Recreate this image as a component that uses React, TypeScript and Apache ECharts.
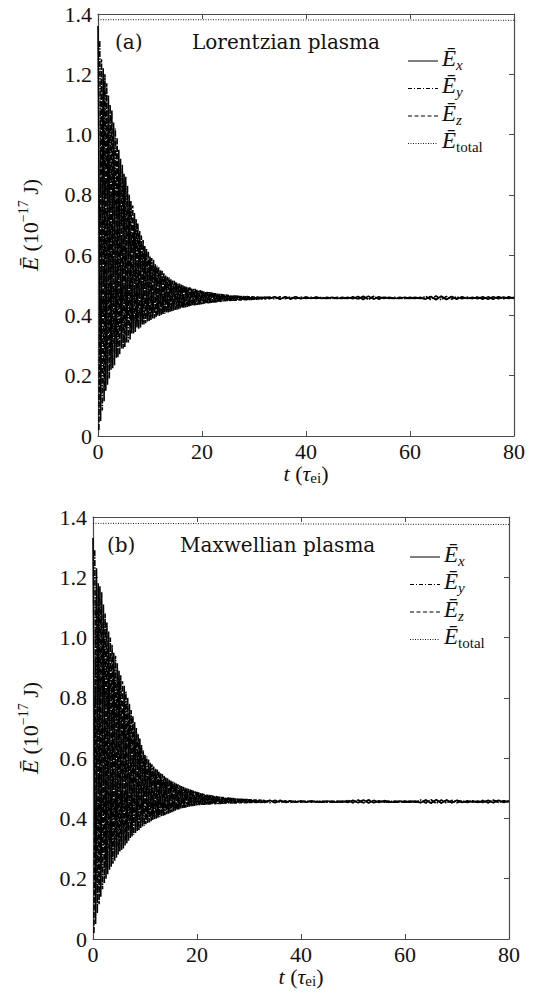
import React, { useEffect, useRef } from "react";
import * as echarts from "echarts";

const DENSE_STEP = 0.5; // time between successive turning points of one component
const FLAT_START = 33;
const FLAT_STEP = 1;
const OFFSET_X = 0;
const OFFSET_Y = 0.33;
const OFFSET_Z = 0.17;

// ---- panel (a): Lorentzian plasma ----
const EX_A_DENSE = [1.36, 0.05, 1.22, 0.15, 1.13, 0.22, 1.04, 0.26, 0.95, 0.29, 0.87, 0.31, 0.80, 0.34, 0.74, 0.36, 0.68, 0.37, 0.63, 0.38, 0.595, 0.39, 0.57, 0.40, 0.55, 0.405, 0.532, 0.41, 0.52, 0.416, 0.51, 0.421, 0.502, 0.426, 0.495, 0.43, 0.489, 0.433, 0.485, 0.436, 0.481, 0.439, 0.478, 0.441, 0.475, 0.443, 0.472, 0.445, 0.47, 0.447, 0.468, 0.448, 0.466, 0.449, 0.465, 0.45, 0.464, 0.451, 0.463, 0.452, 0.462, 0.453, 0.461, 0.454, 0.461];
const EY_A_DENSE = [1.31, 0.085, 1.20, 0.17, 1.10, 0.225, 1.02, 0.26, 0.92, 0.29, 0.86, 0.31, 0.78, 0.34, 0.72, 0.355, 0.665, 0.37, 0.62, 0.382, 0.59, 0.39, 0.565, 0.398, 0.548, 0.406, 0.528, 0.412, 0.516, 0.418, 0.507, 0.423, 0.50, 0.427, 0.492, 0.431, 0.488, 0.434, 0.484, 0.437, 0.48, 0.44, 0.477, 0.442, 0.474, 0.444, 0.471, 0.446, 0.469, 0.448, 0.467, 0.449, 0.466, 0.45, 0.464, 0.451, 0.463, 0.452, 0.462, 0.453, 0.462, 0.454, 0.461, 0.455, 0.46];
const EZ_A_DENSE = [0.02, 1.25, 0.115, 1.17, 0.19, 1.08, 0.235, 0.99, 0.27, 0.90, 0.295, 0.83, 0.32, 0.765, 0.345, 0.705, 0.36, 0.65, 0.374, 0.612, 0.385, 0.585, 0.393, 0.56, 0.401, 0.54, 0.408, 0.526, 0.414, 0.515, 0.419, 0.506, 0.424, 0.498, 0.428, 0.493, 0.432, 0.488, 0.435, 0.484, 0.438, 0.48, 0.44, 0.477, 0.443, 0.474, 0.445, 0.471, 0.447, 0.469, 0.448, 0.467, 0.449, 0.466, 0.45, 0.465, 0.451, 0.464, 0.452, 0.463, 0.453, 0.462, 0.454, 0.461, 0.455];
const EX_A_FLAT = [
  0.455, 0.462, 0.454, 0.461, 0.456, 0.462, 0.455, 0.460,
  0.456, 0.461, 0.457, 0.456, 0.460, 0.457, 0.456, 0.460,
  0.455, 0.463, 0.453, 0.464, 0.454, 0.462, 0.456, 0.460,
  0.457, 0.456, 0.460, 0.457, 0.456, 0.460, 0.454, 0.463,
  0.452, 0.464, 0.453, 0.463, 0.455, 0.461, 0.456, 0.460,
  0.455, 0.462, 0.454, 0.462, 0.455, 0.461, 0.456, 0.460,
];
const EY_A_FLAT = [
  0.461, 0.454, 0.462, 0.455, 0.461, 0.455, 0.461, 0.456,
  0.460, 0.456, 0.460, 0.457, 0.456, 0.460, 0.457, 0.456,
  0.462, 0.454, 0.464, 0.453, 0.463, 0.455, 0.461, 0.456,
  0.460, 0.457, 0.456, 0.460, 0.457, 0.456, 0.463, 0.453,
  0.465, 0.452, 0.463, 0.454, 0.462, 0.455, 0.461, 0.456,
  0.462, 0.454, 0.462, 0.455, 0.461, 0.455, 0.462, 0.456,
];
const EZ_A_FLAT = [
  0.457, 0.461, 0.455, 0.462, 0.454, 0.461, 0.456, 0.461,
  0.457, 0.460, 0.456, 0.460, 0.457, 0.456, 0.460, 0.457,
  0.460, 0.455, 0.462, 0.454, 0.463, 0.454, 0.460, 0.457,
  0.456, 0.460, 0.457, 0.456, 0.460, 0.457, 0.455, 0.462,
  0.454, 0.463, 0.453, 0.462, 0.454, 0.461, 0.457, 0.456,
  0.460, 0.455, 0.461, 0.454, 0.462, 0.456, 0.460, 0.457,
];

// ---- panel (b): Maxwellian plasma ----
const EX_B_DENSE = [1.33, 0.05, 1.18, 0.14, 1.11, 0.20, 1.02, 0.24, 0.95, 0.27, 0.89, 0.295, 0.84, 0.318, 0.78, 0.34, 0.72, 0.358, 0.665, 0.373, 0.61, 0.385, 0.585, 0.395, 0.565, 0.402, 0.55, 0.409, 0.536, 0.416, 0.525, 0.423, 0.516, 0.43, 0.507, 0.435, 0.50, 0.439, 0.494, 0.442, 0.488, 0.444, 0.483, 0.445, 0.479, 0.446, 0.476, 0.447, 0.473, 0.448, 0.471, 0.449, 0.469, 0.45, 0.467, 0.45, 0.465, 0.451, 0.464, 0.451, 0.463, 0.452, 0.462, 0.452, 0.461];
const EY_B_DENSE = [1.29, 0.085, 1.17, 0.165, 1.08, 0.215, 1.00, 0.25, 0.94, 0.28, 0.875, 0.30, 0.82, 0.325, 0.76, 0.345, 0.70, 0.36, 0.645, 0.376, 0.605, 0.387, 0.58, 0.396, 0.562, 0.404, 0.547, 0.411, 0.533, 0.418, 0.522, 0.425, 0.513, 0.431, 0.505, 0.436, 0.498, 0.44, 0.492, 0.443, 0.486, 0.445, 0.482, 0.446, 0.478, 0.447, 0.475, 0.448, 0.472, 0.449, 0.47, 0.45, 0.468, 0.45, 0.466, 0.451, 0.465, 0.451, 0.464, 0.452, 0.463, 0.452, 0.462, 0.453, 0.461];
const EZ_B_DENSE = [0.02, 1.23, 0.115, 1.15, 0.185, 1.05, 0.23, 0.975, 0.26, 0.915, 0.29, 0.855, 0.31, 0.80, 0.335, 0.74, 0.352, 0.68, 0.368, 0.625, 0.381, 0.595, 0.391, 0.572, 0.399, 0.556, 0.407, 0.541, 0.414, 0.529, 0.421, 0.519, 0.428, 0.51, 0.434, 0.502, 0.438, 0.496, 0.441, 0.49, 0.444, 0.485, 0.445, 0.48, 0.446, 0.477, 0.447, 0.474, 0.448, 0.471, 0.449, 0.469, 0.45, 0.467, 0.45, 0.466, 0.451, 0.465, 0.451, 0.464, 0.452, 0.463, 0.452, 0.462, 0.453];
const EX_B_FLAT = [
  0.453, 0.460, 0.452, 0.459, 0.454, 0.459, 0.454, 0.458,
  0.454, 0.458, 0.455, 0.454, 0.458, 0.455, 0.454, 0.458,
  0.453, 0.460, 0.452, 0.461, 0.451, 0.460, 0.453, 0.459,
  0.455, 0.454, 0.458, 0.455, 0.454, 0.458, 0.452, 0.461,
  0.450, 0.462, 0.451, 0.461, 0.452, 0.460, 0.453, 0.459,
  0.454, 0.458, 0.453, 0.460, 0.452, 0.460, 0.453, 0.459,
];
const EY_B_FLAT = [
  0.459, 0.452, 0.460, 0.453, 0.459, 0.453, 0.458, 0.454,
  0.458, 0.454, 0.458, 0.455, 0.454, 0.458, 0.455, 0.454,
  0.460, 0.452, 0.461, 0.451, 0.461, 0.452, 0.459, 0.454,
  0.458, 0.455, 0.454, 0.458, 0.455, 0.454, 0.461, 0.451,
  0.462, 0.450, 0.461, 0.451, 0.460, 0.452, 0.459, 0.453,
  0.459, 0.453, 0.460, 0.452, 0.460, 0.453, 0.459, 0.454,
];
const EZ_B_FLAT = [
  0.455, 0.459, 0.453, 0.460, 0.452, 0.459, 0.454, 0.458,
  0.455, 0.458, 0.454, 0.458, 0.455, 0.454, 0.458, 0.455,
  0.458, 0.453, 0.460, 0.452, 0.461, 0.452, 0.458, 0.455,
  0.454, 0.458, 0.455, 0.454, 0.458, 0.455, 0.453, 0.460,
  0.452, 0.461, 0.451, 0.460, 0.453, 0.459, 0.455, 0.454,
  0.458, 0.453, 0.459, 0.452, 0.460, 0.454, 0.458, 0.455,
];

// ---- total energy ----
const TOTAL_T = [0, 20, 40, 60, 80];
const TOTAL_A = [1.381, 1.381, 1.380, 1.380, 1.379];
const TOTAL_B = [1.379, 1.378, 1.377, 1.376, 1.375];

// ---- text ----
const PANEL_TAGS = ["(a)", "(b)"];
const PANEL_TITLES = ["Lorentzian plasma", "Maxwellian plasma"];
const LEGEND_SUBS = ["x", "y", "z", "total"];
const LEGEND_SUB_ITALIC = [true, true, true, false];

// ---- axes ----
const X_MIN = 0, X_MAX = 80, X_STEP = 20;
const Y_MIN = 0, Y_MAX = 1.4, Y_STEP = 0.2;

const FONT = "Liberation Serif";
const WIDE_FONT = "DejaVu Serif";
const FS = 22;
const INK = "#111";
const AXIS = "#4a4a4a";
const LW = 1.6;

function build(dense: number[], offset: number, flat: number[]) {
  const pts: number[][] = dense.map((v, i) => [offset + i * DENSE_STEP, v]);
  flat.forEach((v, i) => pts.push([FLAT_START + i * FLAT_STEP, v]));
  return pts;
}

const GRIDS = [
  { left: 98, top: 14, width: 416, height: 422 },
  { left: 93, top: 517, width: 416, height: 422 },
];
const Y_NAME_GAP = [54, 49];
const TAG_POS = [[115, 42], [107, 545]];
const TITLE_POS = [[192, 42], [180, 545]];
const LEGEND_POS = [[408, 58], [410, 554]];
const LEGEND_ROW = 27.5;
const LEGEND_DASH: (number[] | null)[] = [null, [4, 2, 1, 2], [4, 2.5], [1, 1.5]];

const PANEL_SERIES = [
  { ex: build(EX_A_DENSE, OFFSET_X, EX_A_FLAT), ey: build(EY_A_DENSE, OFFSET_Y, EY_A_FLAT), ez: build(EZ_A_DENSE, OFFSET_Z, EZ_A_FLAT), tot: TOTAL_T.map((t, i) => [t, TOTAL_A[i]]) },
  { ex: build(EX_B_DENSE, OFFSET_X, EX_B_FLAT), ey: build(EY_B_DENSE, OFFSET_Y, EY_B_FLAT), ez: build(EZ_B_DENSE, OFFSET_Z, EZ_B_FLAT), tot: TOTAL_T.map((t, i) => [t, TOTAL_B[i]]) },
];

const richBase = {
  e: { fontFamily: FONT, fontStyle: "italic" as const, fontSize: FS + 1, lineHeight: 28, color: INK, verticalAlign: "middle" as const },
  si: { fontFamily: FONT, fontStyle: "italic" as const, fontSize: 15, lineHeight: 16, color: INK, verticalAlign: "bottom" as const },
  su: { fontFamily: FONT, fontSize: 15, lineHeight: 16, color: INK, verticalAlign: "bottom" as const },
  n: { fontFamily: FONT, fontSize: FS, lineHeight: 28, color: INK, verticalAlign: "middle" as const },
  sup: { fontFamily: FONT, fontSize: 14, lineHeight: 14, color: INK, verticalAlign: "top" as const },
};

export default function App() {
  const ref = useRef<HTMLDivElement>(null);
  useEffect(() => {
    if (!ref.current) return;
    const chart = echarts.init(ref.current, undefined, { renderer: "svg" });

    const xAxis: any[] = [];
    const yAxis: any[] = [];
    const series: any[] = [];
    const graphic: any[] = [];

    GRIDS.forEach((g, gi) => {
      const common = {
        gridIndex: gi,
        type: "value",
        axisLine: { show: true, onZero: false, lineStyle: { color: AXIS, width: 1.2 } },
        axisTick: { show: true, inside: true, length: 5, lineStyle: { color: AXIS, width: 1 } },
        splitLine: { show: false },
      };
      xAxis.push({
        ...common, position: "bottom", min: X_MIN, max: X_MAX, interval: X_STEP,
        axisLabel: { color: INK, fontFamily: FONT, fontSize: FS, margin: 4 },
        name: "{it|t} {n|(}{it|τ}{sub|ei}{n|)}",
        nameLocation: "middle", nameGap: 17,
        nameTextStyle: {
          fontFamily: FONT, fontSize: FS, color: INK,
          rich: {
            it: { fontFamily: FONT, fontStyle: "italic", fontSize: FS, lineHeight: 24, color: INK, verticalAlign: "middle" },
            n: { fontFamily: FONT, fontSize: FS, lineHeight: 24, color: INK, verticalAlign: "middle" },
            sub: { fontFamily: FONT, fontSize: 15, lineHeight: 14, color: INK, verticalAlign: "bottom" },
          },
        },
      });
      xAxis.push({ ...common, position: "top", min: X_MIN, max: X_MAX, interval: X_STEP, axisLabel: { show: false } });
      yAxis.push({
        ...common, position: "left", min: Y_MIN, max: Y_MAX, interval: Y_STEP,
        axisLabel: { color: INK, fontFamily: FONT, fontSize: FS, margin: 6, formatter: (v: number) => (v === 0 ? "0" : v.toFixed(1)) },
        name: "{e|Ē} {n|(10}{sup|−17}{n| J)}",
        nameLocation: "middle", nameGap: Y_NAME_GAP[gi], nameRotate: 90,
        nameTextStyle: { fontFamily: FONT, fontSize: FS, color: INK, rich: richBase },
      });
      yAxis.push({ ...common, position: "right", min: Y_MIN, max: Y_MAX, interval: Y_STEP, axisLabel: { show: false } });

      const s = PANEL_SERIES[gi];
      const xi = gi * 2, yi = gi * 2;
      const base = { type: "line", xAxisIndex: xi, yAxisIndex: yi, showSymbol: false, symbol: "none", silent: true };
      series.push({ ...base, name: `Ex${gi}`, data: s.ex, lineStyle: { color: "#000", width: LW } });
      series.push({ ...base, name: `Ey${gi}`, data: s.ey, lineStyle: { color: "#000", width: LW, type: [6, 1.2, 1.5, 1.2] } });
      series.push({ ...base, name: `Ez${gi}`, data: s.ez, lineStyle: { color: "#000", width: LW, type: [6, 1.5] } });
      series.push({ ...base, name: `Et${gi}`, data: s.tot, lineStyle: { color: "#000", width: 0.9, type: [1, 1.5] } });

      graphic.push({
        type: "text", x: TAG_POS[gi][0], y: TAG_POS[gi][1],
        style: { text: PANEL_TAGS[gi], fontFamily: WIDE_FONT, fontSize: 20, fill: INK, verticalAlign: "middle" },
      });
      graphic.push({
        type: "text", x: TITLE_POS[gi][0], y: TITLE_POS[gi][1],
        style: { text: PANEL_TITLES[gi], fontFamily: WIDE_FONT, fontSize: 20, fill: INK, verticalAlign: "middle" },
      });
      LEGEND_SUBS.forEach((sub, li) => {
        const [lx, ly] = LEGEND_POS[gi];
        const y = ly + li * LEGEND_ROW;
        const dash = LEGEND_DASH[li];
        graphic.push({
          type: "line",
          shape: { x1: lx, y1: y + 3, x2: lx + 30, y2: y + 3 },
          style: { stroke: "#000", lineWidth: li === 3 ? 0.9 : 1, lineDash: dash || undefined },
        });
        graphic.push({
          type: "text", x: lx + 34, y: y,
          style: {
            text: `{e|Ē}{${LEGEND_SUB_ITALIC[li] ? "si" : "su"}|${sub}}`,
            fill: INK, verticalAlign: "middle", rich: richBase,
          },
        });
      });
    });

    chart.setOption({
      animation: false,
      backgroundColor: "#fff",
      textStyle: { fontFamily: FONT },
      grid: GRIDS,
      xAxis,
      yAxis,
      series,
      graphic,
    });
    return () => chart.dispose();
  }, []);
  return <div ref={ref} style={{ position: "fixed", left: 0, top: 0, width: 536, height: 997 }} />;
}
